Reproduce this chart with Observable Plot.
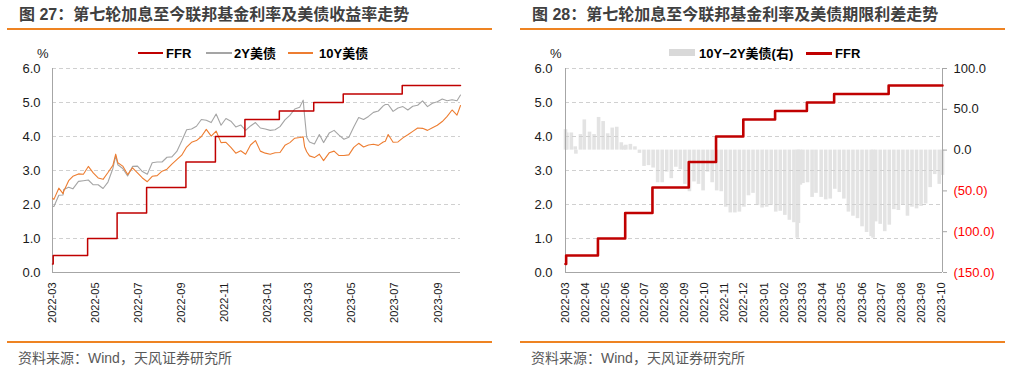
<!DOCTYPE html>
<html><head><meta charset="utf-8">
<script src="https://cdn.jsdelivr.net/npm/d3@7"></script>
<script src="https://cdn.jsdelivr.net/npm/@observablehq/plot@0.6"></script>
<style>
body{margin:0;background:#fff;}
#root{position:relative;width:1015px;height:373px;overflow:hidden;background:#fff;font-family:"Liberation Sans",Arial,"Noto Sans CJK SC",sans-serif;}
.abs{position:absolute;white-space:nowrap;line-height:1;}
.title{font-size:16px;font-weight:bold;color:#404040;}
.orule{position:absolute;height:2px;background:#EE8322;}
.cap{font-size:14px;color:#595959;}
.leg{font-size:13px;font-weight:bold;color:#000;}
.pct{font-size:13px;color:#1a1a1a;}
.sw{position:absolute;height:2px;}
</style></head>
<body><div id="root">
<div class="abs title" style="left:19px;top:7px;">图 27：第七轮加息至今联邦基金利率及美债收益率走势</div>
<div class="abs title" style="left:532px;top:7px;">图 28：第七轮加息至今联邦基金利率及美债期限利差走势</div>
<div class="orule" style="left:7px;width:485px;top:28px;"></div>
<div class="orule" style="left:520px;width:485px;top:28px;"></div>
<div class="orule" style="left:7px;width:485px;top:341px;"></div>
<div class="orule" style="left:520px;width:485px;top:341px;"></div>
<div class="abs cap" style="left:18px;top:351px;">资料来源：Wind，天风证券研究所</div>
<div class="abs cap" style="left:531px;top:351px;">资料来源：Wind，天风证券研究所</div>
<div class="abs pct" style="left:37px;top:47px;">%</div>
<div class="abs pct" style="left:550px;top:47px;">%</div>
<div class="sw" style="left:138px;width:25px;top:52px;background:#C00000;"></div>
<div class="abs leg" style="left:166px;top:47px;">FFR</div>
<div class="sw" style="left:206px;width:26px;top:52px;background:#A5A5A5;"></div>
<div class="abs leg" style="left:234px;top:47px;">2Y美债</div>
<div class="sw" style="left:288px;width:25px;top:52px;background:#ED7D31;"></div>
<div class="abs leg" style="left:319px;top:47px;">10Y美债</div>
<div class="sw" style="left:669px;width:26px;top:49px;height:7px;background:#D9D9D9;"></div>
<div class="abs leg" style="left:699px;top:47px;">10Y−2Y美债(右)</div>
<div class="sw" style="left:806px;width:26px;top:52px;height:2.5px;background:#C00000;"></div>
<div class="abs leg" style="left:835px;top:47px;">FFR</div>
<div id="left" class="abs" style="left:0;top:60px;"></div>
<div id="rightBars" class="abs" style="left:505px;top:60px;"></div>
<div id="rightLine" class="abs" style="left:505px;top:60px;"></div>
</div>
<script>
// ---- data ----
const dates = ["2022-03-16","2022-03-18","2022-03-25","2022-03-31","2022-04-01","2022-04-08","2022-04-14","2022-04-22","2022-04-29",
"2022-05-06","2022-05-13","2022-05-20","2022-05-27","2022-06-03","2022-06-10","2022-06-14","2022-06-17","2022-06-24",
"2022-07-01","2022-07-08","2022-07-15","2022-07-22","2022-07-29","2022-08-05","2022-08-12","2022-08-19","2022-08-26",
"2022-09-02","2022-09-09","2022-09-16","2022-09-23","2022-09-30","2022-10-07","2022-10-14","2022-10-21","2022-10-28",
"2022-11-04","2022-11-11","2022-11-18","2022-11-25","2022-12-02","2022-12-09","2022-12-16","2022-12-23","2022-12-30",
"2023-01-06","2023-01-13","2023-01-20","2023-01-27","2023-02-03","2023-02-10","2023-02-17","2023-02-24","2023-03-03",
"2023-03-08","2023-03-10","2023-03-13","2023-03-17","2023-03-24","2023-03-31","2023-04-06","2023-04-14","2023-04-21",
"2023-04-28","2023-05-05","2023-05-12","2023-05-19","2023-05-26","2023-06-02","2023-06-09","2023-06-16","2023-06-23",
"2023-06-30","2023-07-03","2023-07-07","2023-07-14","2023-07-21","2023-07-28","2023-08-04","2023-08-11","2023-08-18",
"2023-08-25","2023-09-01","2023-09-08","2023-09-15","2023-09-22","2023-09-29","2023-10-06","2023-10-13","2023-10-18"];
const y2 = [1.94,1.94,2.27,2.28,2.44,2.51,2.46,2.68,2.70,
2.72,2.58,2.58,2.47,2.66,3.06,3.43,3.17,3.06,
2.84,3.12,3.13,2.97,2.89,3.23,3.25,3.25,3.39,
3.40,3.56,3.87,4.20,4.22,4.30,4.50,4.48,4.41,
4.66,4.33,4.53,4.45,4.28,4.34,4.18,4.31,4.41,
4.25,4.22,4.18,4.20,4.29,4.49,4.62,4.81,4.86,
5.07,4.60,3.98,3.84,3.78,4.06,3.82,4.10,4.18,
4.04,3.92,3.98,4.28,4.56,4.50,4.59,4.71,4.75,
4.90,4.94,4.94,4.74,4.84,4.88,4.78,4.89,4.92,
5.05,4.88,4.98,5.02,5.10,5.05,5.08,5.05,5.22];
const y10 = [2.19,2.15,2.48,2.32,2.39,2.70,2.83,2.90,2.89,
3.12,2.93,2.78,2.74,2.94,3.15,3.48,3.23,3.13,
2.88,3.08,2.93,2.78,2.67,2.83,2.85,2.98,3.04,
3.19,3.32,3.45,3.69,3.83,3.88,4.00,4.21,4.01,
4.16,3.82,3.83,3.68,3.51,3.58,3.48,3.75,3.88,
3.57,3.51,3.48,3.52,3.53,3.74,3.82,3.95,3.97,
3.99,3.70,3.55,3.43,3.38,3.48,3.29,3.52,3.57,
3.44,3.44,3.46,3.68,3.80,3.69,3.75,3.77,3.74,
3.84,3.86,4.06,3.83,3.84,3.96,4.05,4.15,4.25,
4.24,4.18,4.26,4.33,4.44,4.59,4.78,4.63,4.91];
const spreadBp = [25,21,21,4,-5,19,37,22,19,
40,35,20,27,28,9,5,6,7,
4,-4,-20,-19,-22,-40,-40,-27,-35,
-21,-24,-42,-51,-39,-42,-50,-27,-40,
-50,-51,-70,-77,-77,-76,-70,-56,-53,
-68,-71,-70,-68,-76,-75,-80,-86,-89,
-108,-90,-43,-41,-40,-58,-53,-58,-61,
-60,-48,-52,-60,-76,-81,-84,-94,-101,
-106,-108,-88,-91,-100,-92,-73,-74,-67,
-81,-70,-72,-69,-66,-46,-30,-42,-31];
const ffrDates = ["2022-03-16","2022-03-17","2022-05-05","2022-06-16","2022-07-28","2022-09-22","2022-11-03","2022-12-15","2023-02-02","2023-03-23","2023-05-04","2023-07-27","2023-10-18"];
const ffrValues = [0.25,0.5,1.0,1.75,2.5,3.25,4.0,4.5,4.75,5.0,5.25,5.5,5.5];
const xStart = "2022-03-16", xEnd = "2023-10-18";
const leftTickLabels = ["2022-03","2022-05","2022-07","2022-09","2022-11","2023-01","2023-03","2023-05","2023-07","2023-09"];
const rightTickLabels = ["2022-03","2022-04","2022-05","2022-06","2022-07","2022-08","2022-09","2022-10","2022-11","2022-12",
"2023-01","2023-02","2023-03","2023-04","2023-05","2023-06","2023-07","2023-08","2023-09","2023-10"];
const leftYTicks = [0,1,2,3,4,5,6];
const rightYPos = [0,50,100];
const rightYNeg = [-50,-100,-150];

// ---- build ----
const parse = d3.utcParse("%Y-%m-%d");
const rows = dates.map((d,i)=>({date:parse(d), y2:y2[i], y10:y10[i], spread:spreadBp[i]}));
const ffr = ffrDates.map((d,i)=>({date:parse(d), v:ffrValues[i]}));
const xDomain = [parse(xStart), parse(xEnd)];
const leftTicks = leftTickLabels.map(s=>parse(s+"-16"));
const rightTicks = rightTickLabels.map(s=>parse(s+"-16"));
const FONT = '"Liberation Sans", Arial, "Noto Sans CJK SC", sans-serif';
const AXIS = "#A6A6A6", GRID = "#D0D0D0";
const baseStyle = {fontFamily: FONT, fontSize: "13px", color: "#1a1a1a", background: "transparent", overflow: "visible"};
const fmt1 = d3.format(".1f");

const left = Plot.plot({
  width: 480, height: 270, marginLeft: 52, marginRight: 20, marginTop: 8, marginBottom: 58,
  style: baseStyle,
  x: {type: "utc", domain: xDomain},
  y: {domain: [0, 6]},
  marks: [
    Plot.gridY(leftYTicks.filter(v=>v>0), {stroke: GRID, strokeOpacity: 1, strokeDasharray: "4,3"}),
    Plot.axisY(leftYTicks, {tickSize: 0, tickPadding: 12, tickFormat: fmt1, label: null, fontSize: 13}),
    Plot.axisX(leftTicks, {tickSize: 0, tickPadding: 10, tickRotate: -90, tickFormat: (d,i)=>leftTickLabels[i], label: null, fontSize: 11}),
    Plot.ruleX([xDomain[0]], {stroke: AXIS}),
    Plot.ruleY([0], {stroke: AXIS}),
    Plot.line(rows, {x: "date", y: "y2", stroke: "#A5A5A5", strokeWidth: 1.1}),
    Plot.line(rows, {x: "date", y: "y10", stroke: "#ED7D31", strokeWidth: 1.1}),
    Plot.line(ffr, {x: "date", y: "v", curve: "step-after", stroke: "#C00000", strokeWidth: 1.5})
  ]
});
document.getElementById("left").appendChild(left);

const rightBars = Plot.plot({
  width: 500, height: 270, marginLeft: 60, marginRight: 63, marginTop: 8, marginBottom: 58,
  style: baseStyle,
  x: {type: "utc", domain: xDomain, axis: null},
  y: {domain: [-150, 100], axis: null},
  marks: [
    Plot.ruleX(rows, {x: "date", y1: 0, y2: "spread", stroke: "#E3E3E3", strokeWidth: 3.6}),
    Plot.axisY(rightYPos, {anchor: "right", tickSize: 4, tickPadding: 7, stroke: AXIS, fill: "#1a1a1a", tickFormat: fmt1, label: null, fontSize: 13}),
    Plot.axisY(rightYNeg, {anchor: "right", tickSize: 4, tickPadding: 7, stroke: AXIS, fill: "#FF0000", tickFormat: d=>"(" + fmt1(-d) + ")", label: null, fontSize: 13}),
    Plot.ruleX([xDomain[1]], {stroke: AXIS})
  ]
});
document.getElementById("rightBars").appendChild(rightBars);

const rightLine = Plot.plot({
  width: 500, height: 270, marginLeft: 60, marginRight: 63, marginTop: 8, marginBottom: 58,
  style: baseStyle,
  x: {type: "utc", domain: xDomain},
  y: {domain: [0, 6]},
  marks: [
    Plot.gridY(leftYTicks.filter(v=>v>0), {stroke: GRID, strokeOpacity: 1, strokeDasharray: "4,3"}),
    Plot.axisY(leftYTicks, {tickSize: 0, tickPadding: 13, tickFormat: fmt1, label: null, fontSize: 13}),
    Plot.axisX(rightTicks, {tickSize: 0, tickPadding: 10, tickRotate: -90, tickFormat: (d,i)=>rightTickLabels[i], label: null, fontSize: 11}),
    Plot.ruleX([xDomain[0]], {stroke: AXIS}),
    Plot.ruleY([0], {stroke: AXIS}),
    Plot.line(ffr, {x: "date", y: "v", curve: "step-after", stroke: "#C00000", strokeWidth: 2.6})
  ]
});
document.getElementById("rightLine").appendChild(rightLine);
</script>
</body></html>
